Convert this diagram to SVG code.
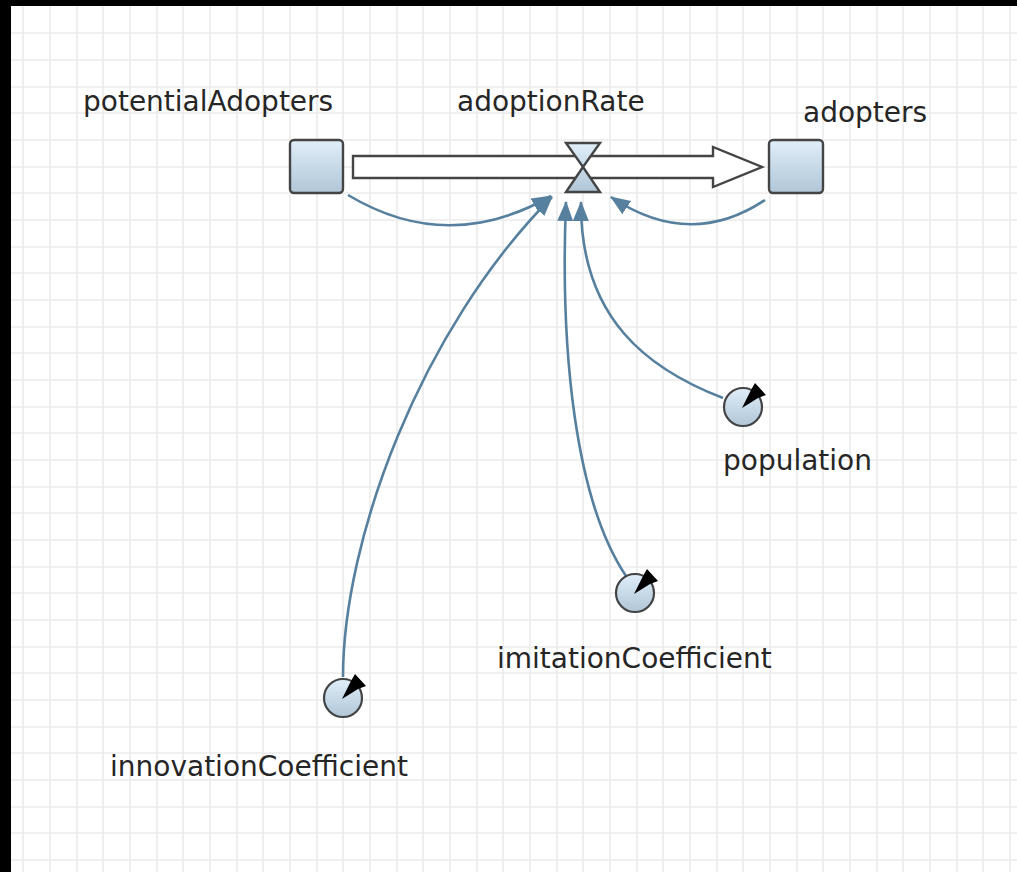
<svg xmlns="http://www.w3.org/2000/svg" width="1017" height="872" viewBox="0 0 1017 872">
<defs>
<linearGradient id="blue" x1="0" y1="0" x2="0" y2="1">
<stop offset="0" stop-color="#e0eef9"/>
<stop offset="1" stop-color="#b0c6d7"/>
</linearGradient>
<marker id="arr" markerUnits="userSpaceOnUse" markerWidth="24" markerHeight="18" refX="19" refY="8" orient="auto">
<path d="M0,0 L20,8 L0,16 Z" fill="#56809e"/>
</marker>
<g id="dial">
<circle cx="0" cy="0" r="19" fill="url(#blue)" stroke="#444" stroke-width="2.2"/>
<path d="M-1,1 L8,-17 L12,-24 L23,-12 L15,-9 Z" fill="#000"/>
</g>
</defs>
<style>
.grid{stroke:#ececec;stroke-width:1.6;fill:none}
.shape{fill:url(#blue);stroke:#444;stroke-width:2.4}
.link{fill:none;stroke:#56809e;stroke-width:2.6;marker-end:url(#arr)}
.lbl{font-family:"DejaVu Sans","Liberation Sans",sans-serif;font-size:28px;fill:#262626}
</style>
<rect x="0" y="0" width="1017" height="872" fill="#fff"/>
<path class="grid" d="M23 0V872M50 0V872M77 0V872M103 0V872M130 0V872M157 0V872M183 0V872M210 0V872M237 0V872M263 0V872M290 0V872M317 0V872M343 0V872M370 0V872M397 0V872M423 0V872M450 0V872M477 0V872M503 0V872M530 0V872M557 0V872M583 0V872M610 0V872M637 0V872M663 0V872M690 0V872M717 0V872M743 0V872M770 0V872M797 0V872M823 0V872M850 0V872M877 0V872M903 0V872M930 0V872M957 0V872M983 0V872M1010 0V872M0 33H1017M0 60H1017M0 87H1017M0 113H1017M0 140H1017M0 167H1017M0 193H1017M0 220H1017M0 247H1017M0 273H1017M0 300H1017M0 327H1017M0 353H1017M0 380H1017M0 407H1017M0 433H1017M0 460H1017M0 487H1017M0 513H1017M0 540H1017M0 567H1017M0 593H1017M0 620H1017M0 647H1017M0 673H1017M0 700H1017M0 727H1017M0 753H1017M0 780H1017M0 807H1017M0 833H1017M0 860H1017"/>
<rect x="0" y="0" width="1017" height="6" fill="#000"/>
<rect x="0" y="0" width="11" height="872" fill="#000"/>

<g id="connectors">
<path class="link" d="M348,195 Q448,255 551,196"/>
<path class="link" d="M765,200 Q690,250 611,197"/>
<path class="link" d="M343,677 C343,540 420,330 552,197"/>
<path class="link" d="M626,576 C575,500 560,350 566,202"/>
<path class="link" d="M723,398 C650,370 580,320 581,202"/>
</g>

<g id="flow-pipe">
<path d="M353,156 H713 V147 L762,167 L713,187 V178 H353 Z" fill="#fff" stroke="#444" stroke-width="2.4" stroke-linejoin="miter"/>
</g>

<g id="potentialAdopters">
<rect class="shape" x="290" y="140" width="53" height="53" rx="4"/>
<text class="lbl" x="83" y="111">potentialAdopters</text>
</g>

<g id="adopters">
<rect class="shape" x="769" y="140" width="54" height="53" rx="4"/>
<text class="lbl" x="803" y="122">adopters</text>
</g>

<g id="adoptionRate">
<path class="shape" d="M566,143 H600 L583,167 Z M583,167 L600,192 H566 Z"/>
<text class="lbl" x="457" y="111">adoptionRate</text>
</g>

<g id="population">
<use href="#dial" x="743" y="407"/>
<text class="lbl" x="723" y="470">population</text>
</g>

<g id="imitationCoefficient">
<use href="#dial" x="635" y="593"/>
<text class="lbl" x="497" y="668">imitationCoefficient</text>
</g>

<g id="innovationCoefficient">
<use href="#dial" x="343" y="698"/>
<text class="lbl" x="110" y="776">innovationCoefficient</text>
</g>
</svg>
